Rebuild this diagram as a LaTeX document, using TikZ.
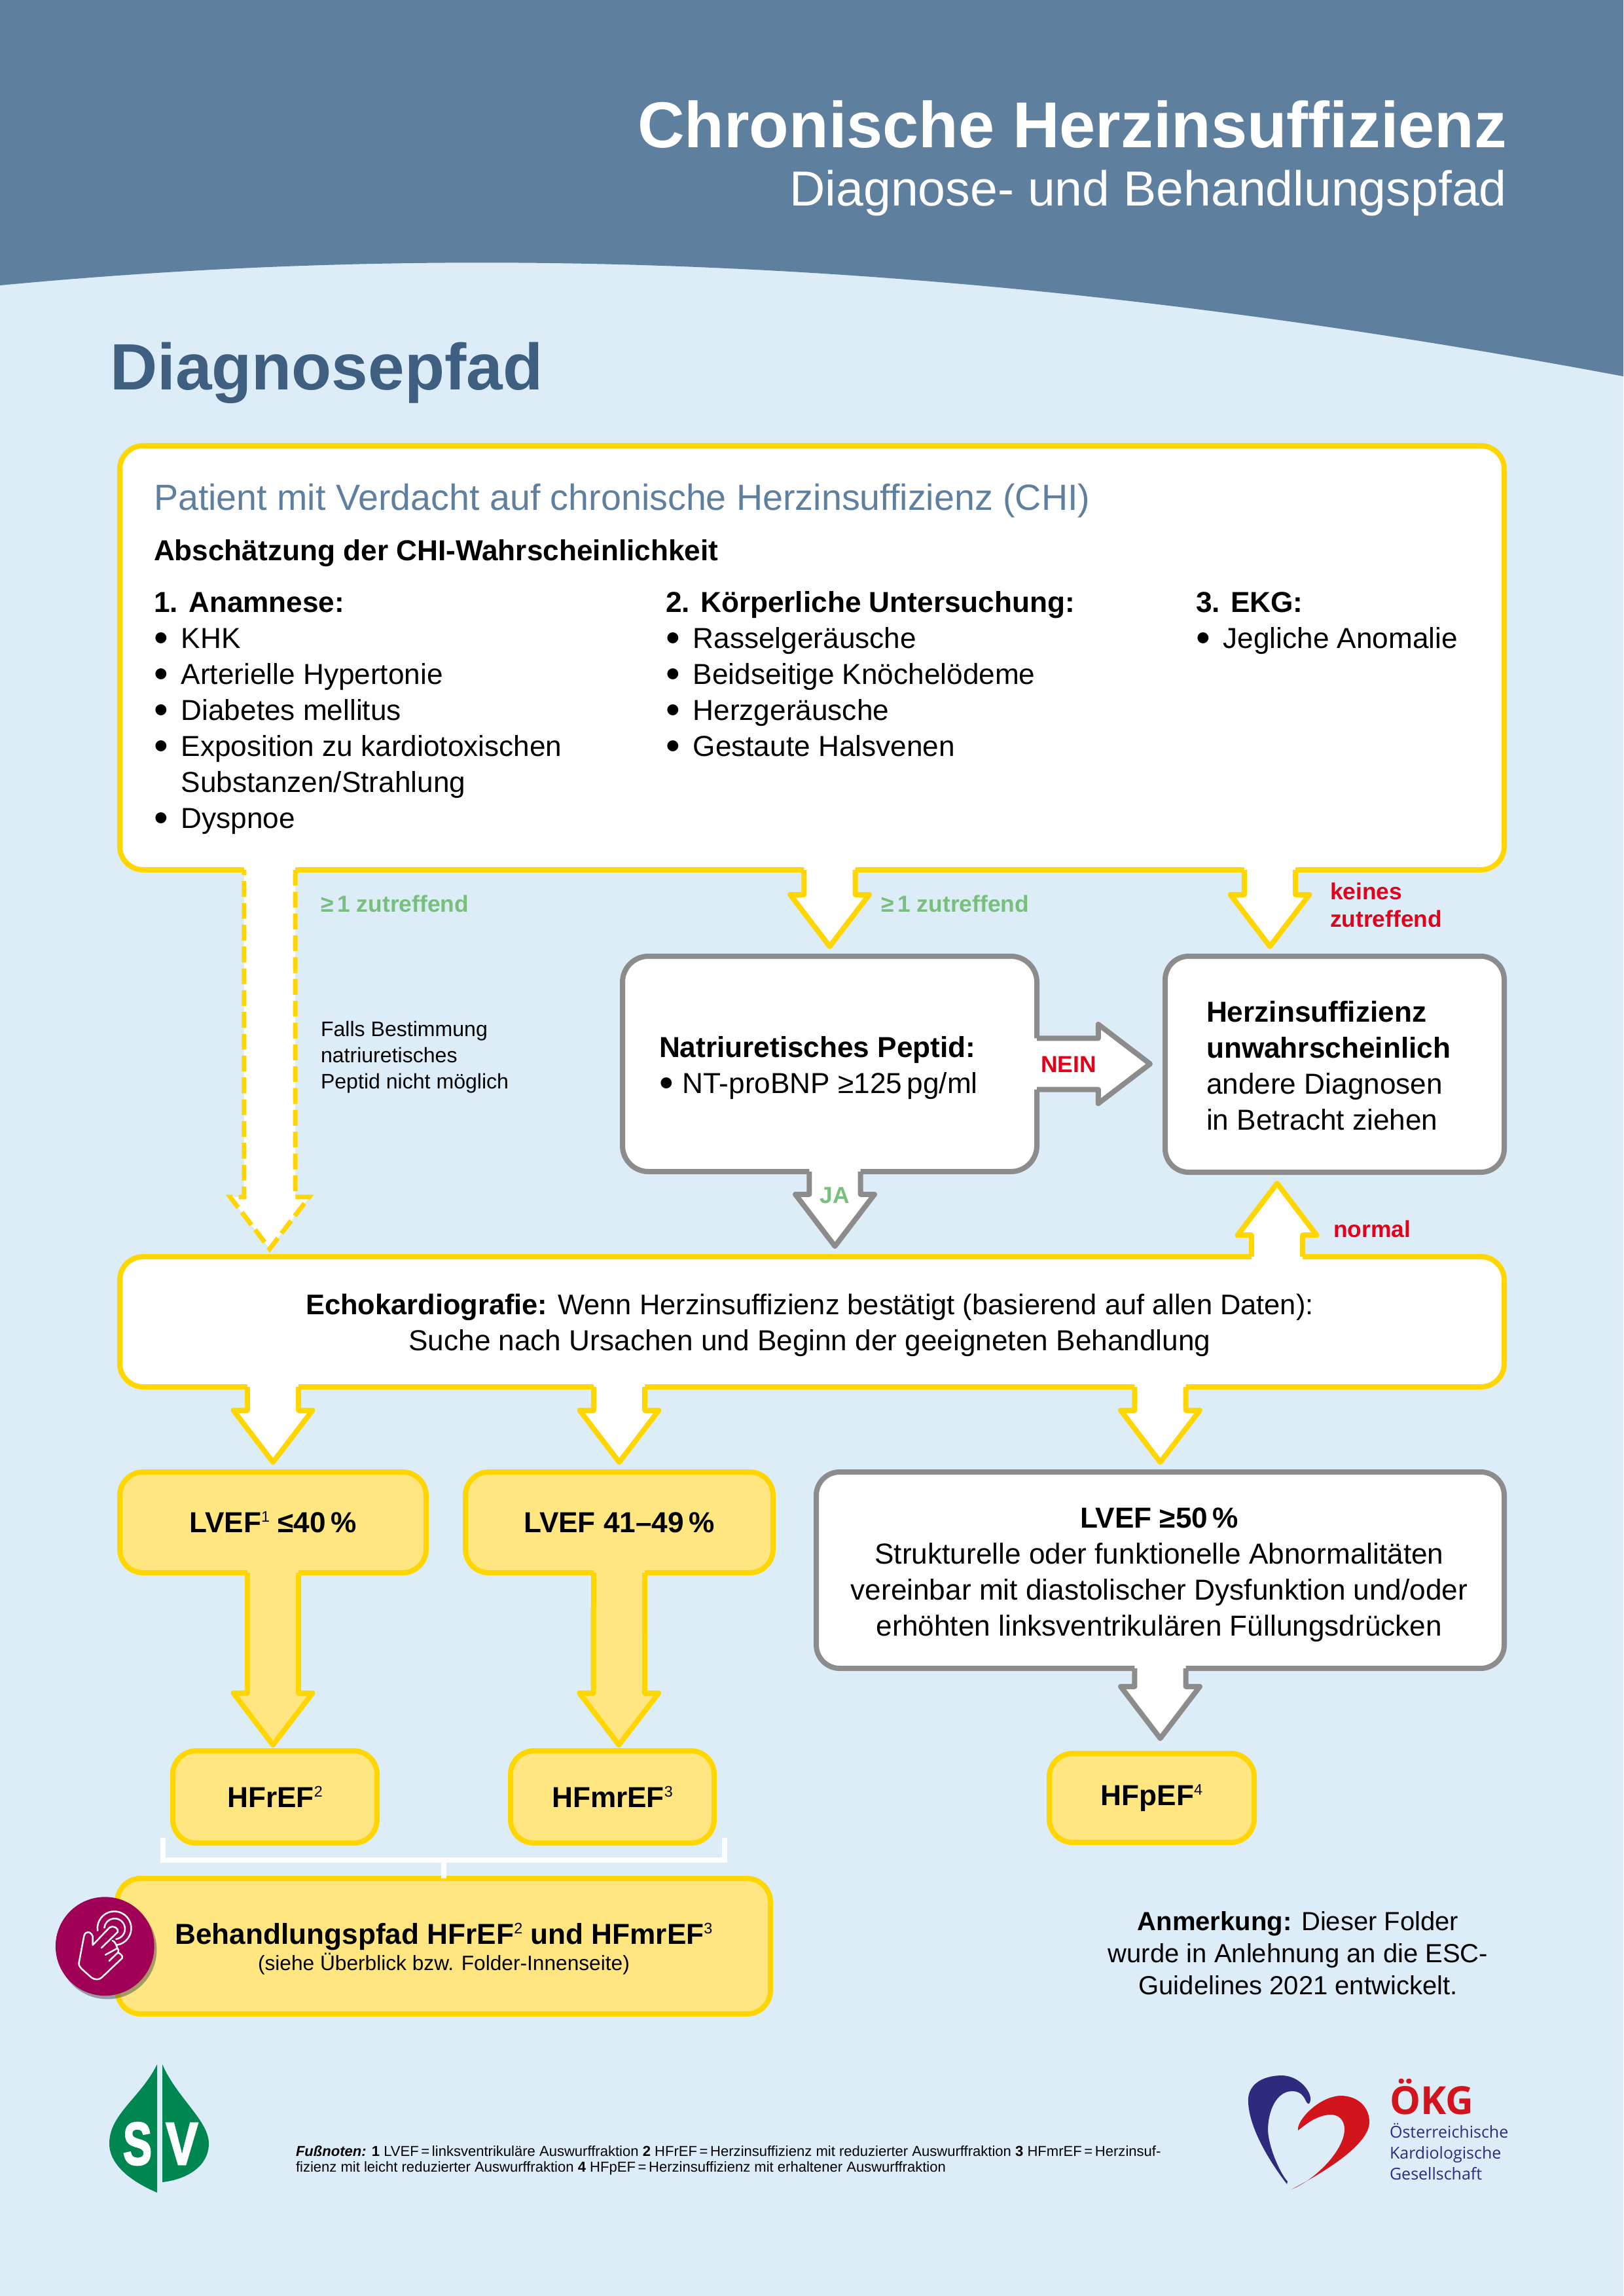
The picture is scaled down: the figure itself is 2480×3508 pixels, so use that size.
\documentclass[tikz,border=0pt]{standalone}
\usepackage{fontspec}
\setmainfont{Liberation Sans}
\newfontfamily\logofont{Open Sans}
\newfontfamily\svfont[BoldFeatures={FakeBold=3}]{Liberation Sans}
\usetikzlibrary{calc}
\definecolor{headblue}{HTML}{5F7F9F}
\definecolor{pageblue}{HTML}{DCEDF8}
\definecolor{titleblue}{HTML}{3F5F80}
\definecolor{yellowline}{HTML}{FFD600}
\definecolor{yellowfill}{HTML}{FFE680}
\definecolor{greyline}{HTML}{8C8C8C}
\definecolor{labelgreen}{HTML}{78BE7C}
\definecolor{labelred}{HTML}{E2001A}
\definecolor{buttonred}{HTML}{A00055}
\definecolor{svgreen}{HTML}{008751}
\definecolor{oekgblue}{HTML}{2E2A7E}
\definecolor{oekgred}{HTML}{D2141C}
\newcommand{\bodyfont}{\fontsize{10.6}{13.2}\selectfont}
\newcommand{\bigdot}{\smash{\raisebox{-1.3pt}{\scalebox{1.4}{\textbullet}}}}
\newcommand{\li}[1]{\makebox[10pt][l]{\bigdot}#1}
\newcommand{\fnote}[1]{\raisebox{3.8pt}{\fontsize{5.6}{6}\selectfont\mdseries #1}}
\newcommand{\toprow}{\rule{0pt}{9pt}}
\newcommand{\headlen}{19pt}
\newcommand{\headhw}{14.5pt}
\newcommand{\shafthw}{9.4pt}
\newcommand{\flowarrow}[3]{%
\coordinate (fa) at (#2);
\coordinate (fb) at (#3);
\coordinate (fh) at ($(fb)!\headlen!(fa)$);
\coordinate (fs) at ($(fa)!-3pt!(fb)$);
\fill[#1,draw=none] ($(fs)!\shafthw!90:(fb)$) -- ($(fh)!\shafthw!90:(fb)$) -- ($(fh)!\headhw!90:(fb)$) -- (fb) -- ($(fh)!\headhw!-90:(fb)$) -- ($(fh)!\shafthw!-90:(fb)$) -- ($(fs)!\shafthw!-90:(fb)$) -- cycle;
\draw[#1,fill=none] ($(fa)!\shafthw!90:(fb)$) -- ($(fh)!\shafthw!90:(fb)$) -- ($(fh)!\headhw!90:(fb)$) -- (fb) -- ($(fh)!\headhw!-90:(fb)$) -- ($(fh)!\shafthw!-90:(fb)$) -- ($(fa)!\shafthw!-90:(fb)$);
}
\tikzset{
boxsize/.style 2 args={minimum width=#1*0.24pt,minimum height=#2*0.24pt},
flowbox/.style={draw,line width=1.92pt,rounded corners=8.6pt,inner sep=0,outer sep=0,align=center,font=\bodyfont},
yellowbox/.style={flowbox,draw=yellowline,fill=white},
greybox/.style={flowbox,draw=greyline,fill=white},
goldbox/.style={flowbox,draw=yellowline,fill=yellowfill},
yellowarrow/.style={draw=yellowline,fill=white,line width=1.92pt,line join=round},
greyarrow/.style={draw=greyline,fill=white,line width=1.92pt,line join=round},
goldarrow/.style={draw=yellowline,fill=yellowfill,line width=1.92pt,line join=round},
dasharrow/.style={draw=yellowline,fill=white,line width=1.7pt,dash pattern=on 5.8pt off 2.2pt},
plain/.style={inner sep=0,outer sep=0,anchor=base west,align=left,font=\bodyfont},
greenlabel/.style={plain,font=\fontsize{8.5}{10}\selectfont\bfseries,text=labelgreen},
redlabel/.style={plain,font=\fontsize{8.5}{10}\selectfont\bfseries,text=labelred},
bracket/.style={draw=white,line width=2pt},
handline/.style={draw=white,line width=0.6pt,line cap=round,line join=round}
}
\begin{document}
\begin{tikzpicture}[x=0.24pt,y=-0.24pt]
\fill[pageblue] (0,0) rectangle (2480,3508);
\useasboundingbox (0,0) rectangle (2480,3508);
\fill[headblue] (0,0) -- (2480,0) -- (2480,575) .. controls (1600,410) and (800,360) .. (0,436) -- cycle;
\node[plain,anchor=base east,text=white,font=\fontsize{23.8}{26}\selectfont\bfseries] (title) at (2302,226) {Chronische Herzinsuffizienz};
\node[plain,anchor=base east,text=white,font=\fontsize{18.05}{21}\selectfont] (subtitle) at (2302,315) {Diagnose- und Behandlungspfad};
\node[plain,text=titleblue,font=\fontsize{24}{27}\selectfont\bfseries] (section) at (168,596) {Diagnosepfad};

\node[yellowbox,boxsize={2115}{648},anchor=north west] (main) at (183,681) {};
\node[greybox,boxsize={633}{329},anchor=north west,rounded corners=9.5pt] (natri) at (951,1461) {};
\node[greybox,boxsize={518}{330},anchor=north west] (herz) at (1780,1461) {};
\node[yellowbox,boxsize={2115}{199},anchor=north west] (echo) at (183,1920) {};
\node[goldbox,boxsize={468}{154},anchor=north west,font=\bodyfont\bfseries] (lvefa) at (183,2249) {LVEF\fnote{1} ≤40\,\%};
\node[goldbox,boxsize={470}{154},anchor=north west,font=\bodyfont\bfseries] (lvefb) at (711,2249) {LVEF 41–49\,\%};
\node[greybox,boxsize={1051}{300},anchor=north west] (lvefc) at (1247,2249) {};
\node[goldbox,boxsize={312}{141},anchor=north west,font=\bodyfont\bfseries] (hfr) at (264,2675) {HFrEF\fnote{2}};
\node[goldbox,boxsize={311}{141},anchor=north west,font=\bodyfont\bfseries] (hfmr) at (780,2675) {HFmrEF\fnote{3}};
\node[goldbox,boxsize={313}{136},anchor=north west,font=\bodyfont\bfseries] (hfp) at (1603,2679) {HFpEF\fnote{4}};
\node[goldbox,boxsize={998}{207},anchor=north west] (behand) at (179,2870) {};

\coordinate (tipn) at ($(natri.north)+(0,-15)$);
\coordinate (tiph) at ($(herz.north)+(-99,-15)$);
\coordinate (tipd) at ($(echo.north west)+(229,-12)$);
\coordinate (tipu) at ($(herz.south)+(-88,17)$);
\coordinate (tipj) at ($(natri.south)+(8,114)$);
\flowarrow{dasharrow}{main.south -| tipd}{tipd}
\flowarrow{yellowarrow}{main.south -| tipn}{tipn}
\flowarrow{yellowarrow}{main.south -| tiph}{tiph}
\flowarrow{greyarrow}{natri.east}{$(natri.east)+(173,0)$}
\flowarrow{greyarrow}{natri.south -| tipj}{tipj}
\flowarrow{yellowarrow}{echo.north -| tipu}{tipu}
\flowarrow{yellowarrow}{echo.south -| lvefa}{$(lvefa.north)+(0,-15)$}
\flowarrow{yellowarrow}{echo.south -| lvefb}{$(lvefb.north)+(0,-15)$}
\flowarrow{yellowarrow}{echo.south -| lvefc}{$(lvefc.north)+(0,-15)$}
\flowarrow{goldarrow}{lvefa.south}{$(hfr.north)+(-3,-9)$}
\flowarrow{goldarrow}{lvefb.south}{$(hfmr.north)+(10,-9)$}
\flowarrow{greyarrow}{lvefc.south}{$(lvefc.south)+(0,107)$}

\coordinate (brl) at ($(hfr.south west)+(-15,-8)$);
\coordinate (brr) at ($(hfmr.south east)+(16,-8)$);
\draw[bracket] (brl) -- ++(0,34) -| (brr);
\draw[bracket] (behand.north) -- ++(0,-25);

\node[plain,text=headblue,font=\fontsize{13.35}{16}\selectfont] (patient) at (235,780) {Patient mit Verdacht auf chronische Herzinsuffizienz (CHI)};
\node[plain,font=\bodyfont\bfseries] (abschaetzung) at (235,857) {Abschätzung der CHI-Wahrscheinlichkeit};
\node[plain,anchor=north west] (anamnese) at (235,898) {\toprow\textbf{1. Anamnese:}\\\li{KHK}\\\li{Arterielle Hypertonie}\\\li{Diabetes mellitus}\\\li{Exposition zu kardiotoxischen}\\\hspace*{10pt}Substanzen/Strahlung\\\li{Dyspnoe}};
\node[plain,anchor=north west] (koerper) at (1017,898) {\toprow\textbf{2. Körperliche Untersuchung:}\\\li{Rasselgeräusche}\\\li{Beidseitige Knöchelödeme}\\\li{Herzgeräusche}\\\li{Gestaute Halsvenen}};
\node[plain,anchor=north west] (ekg) at (1827,898) {\toprow\textbf{3. EKG:}\\\li{Jegliche Anomalie}};
\node[greenlabel] (zua) at (490,1393) {≥\,1 zutreffend};
\node[greenlabel] (zub) at (1346,1393) {≥\,1 zutreffend};
\node[redlabel,anchor=north west] (keines) at (2032,1349) {keines\\zutreffend};
\node[plain,anchor=north west,font=\fontsize{7.7}{9.6}\selectfont] (falls) at (490,1560) {Falls Bestimmung\\natriuretisches\\Peptid nicht möglich};
\node[plain,anchor=north west] (natritext) at (1007,1583) {\textbf{Natriuretisches Peptid:}\\\makebox[8.5pt][l]{\bigdot}NT-proBNP ≥125\,pg/ml};
\node[plain,anchor=north west] (herztext) at (1843,1529) {\textbf{Herzinsuffizienz}\\\textbf{unwahrscheinlich}\\andere Diagnosen\\in Betracht ziehen};
\node[redlabel] (nein) at (1590,1638) {NEIN};
\node[greenlabel,anchor=base] (ja) at (1275,1838) {JA};
\node[redlabel] (normal) at (2037,1890) {normal};
\node[plain,anchor=center,align=center] (echotext) at (1237,2025) {{\fontsize{10.42}{13.2}\selectfont\textbf{Echokardiografie:} Wenn Herzinsuffizienz bestätigt (basierend auf allen Daten):}\\Suche nach Ursachen und Beginn der geeigneten Behandlung};
\node[plain,anchor=center,align=center] (lvefctext) at (1771,2406) {\textbf{LVEF ≥50\,\%}\\Strukturelle oder funktionelle Abnormalitäten\\vereinbar mit diastolischer Dysfunktion und/oder\\erhöhten linksventrikulären Füllungsdrücken};
\node[plain,anchor=base,font=\bodyfont\bfseries] (behandtext) at (678,2970) {Behandlungspfad HFrEF\fnote{2} und HFmrEF\fnote{3}};
\node[plain,anchor=base,font=\fontsize{7.6}{9}\selectfont] (siehe) at (678,3010) {(siehe Überblick bzw. Folder-Innenseite)};
\node[plain,anchor=center,align=center,font=\fontsize{9.6}{11.8}\selectfont] (anmerkung) at (1983,2984) {\textbf{Anmerkung:} Dieser Folder\\wurde in Anlehnung an die ESC-\\Guidelines 2021 entwickelt.};
\node[plain,anchor=north west,font=\fontsize{5.29}{5.8}\selectfont] (fussnote) at (452,3278) {\textbf{\textit{Fußnoten:}} \textbf{1} LVEF\,=\,linksventrikuläre Auswurffraktion \textbf{2} HFrEF\,=\,Herzinsuffizienz mit reduzierter Auswurffraktion \textbf{3} HFmrEF\,=\,Herzinsuf-\\fizienz mit leicht reduzierter Auswurffraktion \textbf{4} HFpEF\,=\,Herzinsuffizienz mit erhaltener Auswurffraktion};

\fill[black!70,opacity=0.5] (164,2979) circle [radius=18.1pt];
\fill[buttonred] (160.3,2973.7) circle [radius=18.1pt];
\draw[handline] (178.3,2971.7) arc [start angle=-82,end angle=188,radius=6.2pt];
\draw[handline] (177.3,2962.7) arc [start angle=-82,end angle=174,radius=3.8pt];
\draw[handline,fill=buttonred] (141.7,2971.7) -- (167.3,2945) .. controls (172,2941) and (182,2946) .. (180,2951.7) -- (155,2976);
\draw[handline] (171.7,2965) .. controls (175,2966) and (178,2971) .. (179.3,2976.7) -- (161,2986.7);
\draw[handline] (179.3,2976.7) .. controls (182,2980) and (181,2982) .. (180,2983.3) -- (166.7,2996);
\draw[handline] (180,2983.3) .. controls (184,2985) and (188,2988) .. (186.7,2991.7) -- (155,3021.7) .. controls (151,3025) and (145,3025) .. (140,3021.7) -- (125,3008.3) .. controls (121,3004) and (120,3002) .. (120.7,2998.3) -- (128.3,2958.3) .. controls (130,2950) and (138,2950) .. (141.7,2958.3) -- (141.7,2971.7);

\fill[svgreen] (240,3154) .. controls (215,3205) and (167,3230) .. (167,3275) .. controls (167,3310) and (205,3335) .. (240,3350) -- cycle;
\fill[svgreen] (248,3154) .. controls (270,3205) and (319,3240) .. (319,3275) .. controls (319,3310) and (285,3330) .. (248,3334) -- cycle;
\node[plain,anchor=base,text=white,font=\svfont\bfseries\fontsize{22}{24}\selectfont,xscale=0.72] (s) at (210,3307) {S};
\node[plain,anchor=base,text=white,font=\svfont\bfseries\fontsize{22}{24}\selectfont,xscale=0.8] (v) at (278,3307) {V};

\fill[oekgblue] (1966,3337) .. controls (1930,3290) and (1905,3240) .. (1907,3205) .. controls (1910,3180) and (1935,3171) .. (1959,3171) .. controls (1985,3172) and (2003,3195) .. (2002,3208) .. controls (2001,3216) and (1998,3216) .. (1995,3210) .. controls (1990,3198) and (1982,3195) .. (1974,3195) .. controls (1950,3195) and (1937,3225) .. (1937,3255) .. controls (1938,3280) and (1955,3320) .. (1967,3333) -- cycle;
\fill[oekgred] (1973,3345) .. controls (2030,3315) and (2092,3275) .. (2092,3242) .. controls (2092,3220) and (2075,3202) .. (2048,3202) .. controls (2015,3203) and (1980,3240) .. (1983,3255) .. controls (1990,3250) and (2010,3231) .. (2033,3231) .. controls (2050,3231) and (2054,3245) .. (2054,3253) .. controls (2054,3285) and (2010,3330) .. (1973,3345) -- cycle;
\node[plain,text=oekgred,font=\logofont\fontsize{14.2}{15}\selectfont\bfseries] (oekg) at (2123,3230) {ÖKG};
\node[plain,anchor=north west,text=oekgblue,font=\logofont\fontsize{6}{7.7}\selectfont] (oekgname) at (2123,3244) {Österreichische\\Kardiologische\\Gesellschaft};
\end{tikzpicture}
\end{document}
